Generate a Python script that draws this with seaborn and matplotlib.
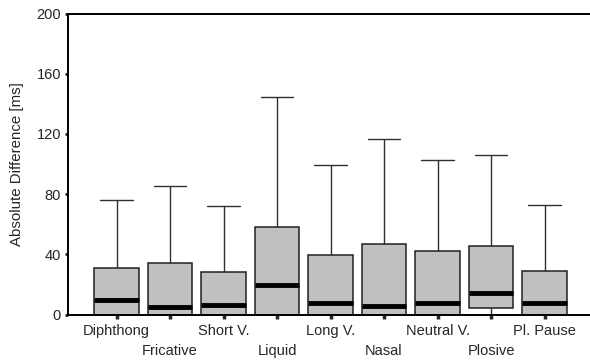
import pandas as pd
import seaborn as sns  # statistical plotting
import matplotlib.pyplot as plt
import numpy as np

# five-number summaries (min, q1, median, q3, max) in ms
categories = ["Diphthong", "Fricative", "Short V.", "Liquid", "Long V.",
              "Nasal", "Neutral V.", "Plosive", "Pl. Pause"]
mins = [0, 0, 0, 0, 0, 0, 0, 0, 0]
q1s = [0, 0, 0, 0, 0, 0, 0, 4.3, 0]
medians = [9.7, 5.2, 6.5, 19.5, 7.5, 5.9, 7.5, 14.3, 7.5]
q3s = [31.2, 34.1, 28.1, 57.9, 39.5, 47.0, 41.9, 45.2, 29.2]
maxs = [75.9, 85.5, 71.9, 144.3, 99.2, 116.3, 102.8, 106.1, 72.5]

# with 5 points per group, the quartiles land exactly on these values
rows = []
for i, cat in enumerate(categories):
    for v in (mins[i], q1s[i], medians[i], q3s[i], maxs[i]):
        rows.append({"phone": cat, "diff": v})
df = pd.DataFrame(rows)

sns.set_style("white")
plt.rcParams["font.family"] = ["Liberation Sans", "DejaVu Sans"]

fig = plt.figure(figsize=(5.9, 3.6), dpi=100)
ax = fig.add_axes([68 / 590, 45.5 / 360, 522 / 590, 301 / 360])

sns.boxplot(
    data=df, x="phone", y="diff", ax=ax,
    order=categories,
    whis=(0, 100),
    width=0.84,
    color="#c0c0c0",
    saturation=1,
    linecolor="#202020",
    linewidth=1.1,
    capwidths=0.61,
    medianprops=dict(color="black", linewidth=3.5),
    whiskerprops=dict(color="#303030", linewidth=1.0),
    capprops=dict(color="#303030", linewidth=1.0),
    boxprops=dict(edgecolor="#202020", linewidth=1.1),
)

ax.set_xlim(-0.907, 8.85)
ax.set_ylim(0, 200)
ax.set_yticks([0, 40, 80, 120, 160, 200])
ax.set_xlabel("")
ax.set_ylabel("Absolute Difference [ms]", fontsize=10.8)
ax.yaxis.set_label_coords((24 - 68) / 522, 0.5)

for s in ["left", "top", "bottom"]:
    ax.spines[s].set_visible(True)
    ax.spines[s].set_color("black")
    ax.spines[s].set_linewidth(1.4)
ax.spines["right"].set_visible(False)

ax.tick_params(axis="y", direction="out", length=2, width=2, pad=3, labelsize=10.5, left=True)
ax.tick_params(axis="x", direction="out", length=3, width=2.5, pad=4, labelsize=10.5, bottom=True)

# alternate tick labels on two rows
for i, tick in enumerate(ax.xaxis.get_major_ticks()):
    if i % 2 == 1:
        tick.set_pad(18.5)

fig.savefig("out.png", dpi=100)
